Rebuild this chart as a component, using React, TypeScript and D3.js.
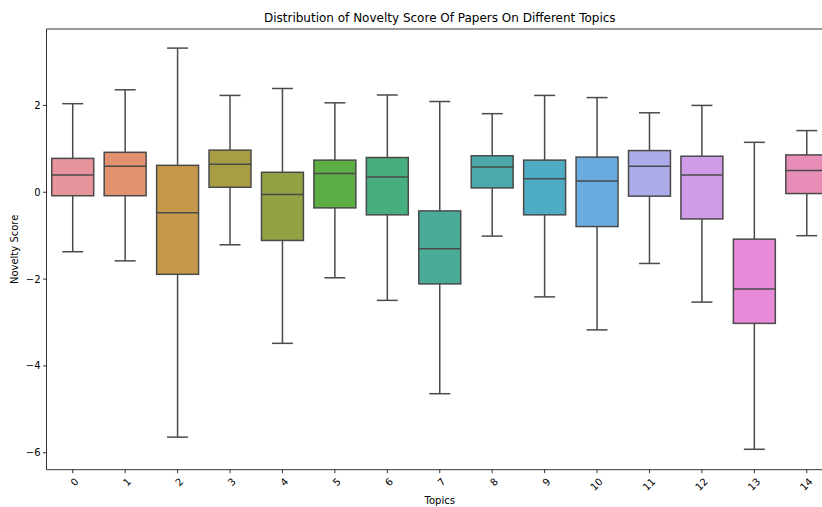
import React from "react";
import * as d3 from "d3";

const topics = ["0","1","2","3","4","5","6","7","8","9","10","11","12","13","14"];
const whiskerLow = [-1.37,-1.58,-5.64,-1.21,-3.48,-1.97,-2.49,-4.64,-1.01,-2.41,-3.17,-1.64,-2.53,-5.92,-1.00];
const q1 = [-0.08,-0.08,-1.89,0.115,-1.11,-0.36,-0.52,-2.11,0.10,-0.52,-0.79,-0.09,-0.615,-3.02,-0.03];
const median = [0.40,0.60,-0.47,0.645,-0.05,0.43,0.35,-1.30,0.58,0.31,0.26,0.60,0.40,-2.23,0.50];
const q3 = [0.78,0.92,0.62,0.97,0.46,0.74,0.80,-0.43,0.84,0.74,0.81,0.96,0.83,-1.08,0.86];
const whiskerHigh = [2.04,2.36,3.32,2.23,2.39,2.06,2.24,2.09,1.81,2.23,2.18,1.83,2.00,1.15,1.42];
const colors = ["#e8949d","#e3926f","#c6994a","#a99d43","#92a244","#5eae46","#47ae7f","#4aac98","#4ba9aa","#4eabc4","#6aace0","#acabea","#cf9ae6","#e78bd8","#e78db8"];
const yTicks = [-6,-4,-2,0,2];

const W = 822, H = 507;
const left = 46.5, top = 29, bottom = 469.7, right = 833;

export default function App() {
  const x = d3.scaleBand<string>().domain(topics).range([left, right]).paddingInner(0).paddingOuter(0);
  const y = d3.scaleLinear().domain([-6.39, 3.76]).range([bottom, top]);
  const bw = x.bandwidth();
  const boxW = bw * 0.8;
  const capW = boxW * 0.5;
  const line = "#4a4a4a";
  const font = "DejaVu Sans, sans-serif";
  return (
    <svg width={W} height={H} style={{ position: "absolute", left: 0, top: 0, background: "#fff" }} fontFamily={font}>
      <rect x={0} y={0} width={W} height={H} fill="#fff" />
      {topics.map((t, i) => {
        const cx = x(t)! + bw / 2;
        return (
          <g key={t}>
            <line x1={cx} x2={cx} y1={y(q3[i])} y2={y(whiskerHigh[i])} stroke={line} strokeWidth={1.5} />
            <line x1={cx} x2={cx} y1={y(q1[i])} y2={y(whiskerLow[i])} stroke={line} strokeWidth={1.5} />
            <line x1={cx - capW / 2} x2={cx + capW / 2} y1={y(whiskerHigh[i])} y2={y(whiskerHigh[i])} stroke={line} strokeWidth={1.5} />
            <line x1={cx - capW / 2} x2={cx + capW / 2} y1={y(whiskerLow[i])} y2={y(whiskerLow[i])} stroke={line} strokeWidth={1.5} />
            <rect x={cx - boxW / 2} y={y(q3[i])} width={boxW} height={y(q1[i]) - y(q3[i])} fill={colors[i]} stroke={line} strokeWidth={1.5} />
            <line x1={cx - boxW / 2} x2={cx + boxW / 2} y1={y(median[i])} y2={y(median[i])} stroke={line} strokeWidth={1.5} />
          </g>
        );
      })}
      {/* spines */}
      <line x1={left} x2={left} y1={top} y2={bottom} stroke="#000" strokeWidth={0.8} />
      <line x1={left} x2={right} y1={bottom} y2={bottom} stroke="#000" strokeWidth={0.8} />
      <line x1={left} x2={right} y1={top} y2={top} stroke="#000" strokeWidth={0.8} />
      {/* y ticks */}
      {yTicks.map((v) => (
        <g key={v}>
          <line x1={left - 3.5} x2={left} y1={y(v)} y2={y(v)} stroke="#000" strokeWidth={0.8} />
          <text x={left - 6} y={y(v)} dy="0.35em" textAnchor="end" fontSize={10} fill="#000">
            {v < 0 ? "\u2212" + Math.abs(v) : String(v)}
          </text>
        </g>
      ))}
      {/* x ticks */}
      {topics.map((t) => {
        const cx = x(t)! + bw / 2;
        return (
          <g key={t}>
            <line x1={cx} x2={cx} y1={bottom} y2={bottom + 3.5} stroke="#000" strokeWidth={0.8} />
            <text transform={`translate(${cx + 3},${bottom + 9}) rotate(-45)`} textAnchor="end" dy="0.5em" fontSize={10} fill="#000">
              {t}
            </text>
          </g>
        );
      })}
      <text x={(left + right) / 2} y={22} textAnchor="middle" fontSize={12} fill="#000">
        Distribution of Novelty Score Of Papers On Different Topics
      </text>
      <text x={(left + right) / 2} y={504} textAnchor="middle" fontSize={10} fill="#000">
        Topics
      </text>
      <text transform={`translate(18,${(top + bottom) / 2}) rotate(-90)`} textAnchor="middle" fontSize={10} fill="#000">
        Novelty Score
      </text>
    </svg>
  );
}
